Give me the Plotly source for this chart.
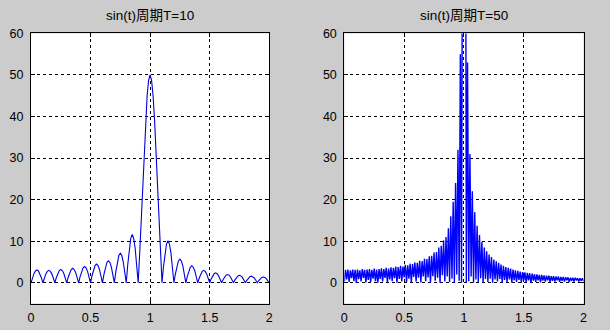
import plotly.graph_objects as go

# ---------------- data ----------------
# Left panel: |X(f)| for sin(t), T=10, sampled every 0.0125 starting at 0
left_start = 0.0
left_step = 0.0125
left_values = [
    0, 1.2, 2.2, 2.85, 3.1, 2.85, 2.2, 1.2,
    0, 1.15, 2.15, 2.75, 3.0, 2.75, 2.15, 1.15,
    0, 1.2, 2.3, 2.95, 3.2, 2.95, 2.3, 1.2,
    0, 1.35, 2.5, 3.2, 3.5, 3.2, 2.5, 1.35,
    0, 1.5, 2.75, 3.6, 3.9, 3.6, 2.75, 1.5,
    0, 1.7, 3.2, 4.15, 4.5, 4.15, 3.2, 1.7,
    0, 2.0, 3.75, 4.9, 5.3, 4.9, 3.75, 2.0,
    0, 2.7, 5.0, 6.55, 7.1, 6.55, 5.0, 2.7,
    0, 4.4, 8.2, 10.7, 11.6, 10.7, 8.2, 4.4,
    0, 7.0, 15.0, 23.5, 31.8, 39.2, 45.0, 48.7,
    50.0, 48.7, 45.0, 39.2, 31.8, 23.5, 15.0, 7.0,
    0, 3.85, 7.2, 9.3, 10.1, 9.3, 7.2, 3.85,
    0, 2.15, 4.05, 5.25, 5.7, 5.25, 4.05, 2.15,
    0, 1.55, 2.9, 3.75, 4.1, 3.75, 2.9, 1.55,
    0, 1.15, 2.15, 2.75, 3.0, 2.75, 2.15, 1.15,
    0, 0.9, 1.7, 2.2, 2.4, 2.2, 1.7, 0.9,
    0, 0.75, 1.4, 1.85, 2.0, 1.85, 1.4, 0.75,
    0, 0.7, 1.3, 1.65, 1.8, 1.65, 1.3, 0.7,
    0, 0.6, 1.15, 1.45, 1.6, 1.45, 1.15, 0.6,
    0, 0.55, 1.0, 1.3, 1.4, 1.3, 1.0, 0.55,
    0,
]

# Right panel: |X(f)| for sin(t), T=50, sampled every 0.01 starting at 0
right_start = 0.0
right_step = 0.01
right_values = [
    0.3, 3.1, 0.8, 3.2, 0.2, 3.0, 1.1, 3.2, 0.4, 3.1,
    0.0, 3.2, 0.9, 3.0, 0.3, 3.3, 1.2, 3.1, 0.1, 3.2,
    0.7, 3.3, 0.2, 3.1, 1.0, 3.4, 0.4, 3.2, 0.0, 3.3,
    0.9, 3.5, 0.3, 3.3, 1.2, 3.6, 0.1, 3.4, 0.8, 3.7,
    0.4, 3.6, 1.1, 3.9, 0.0, 3.8, 0.9, 4.1, 0.3, 3.9,
    1.3, 4.3, 0.2, 4.2, 1.0, 4.6, 0.0, 4.5, 1.4, 4.9,
    0.3, 4.8, 1.2, 5.3, 0.1, 5.2, 1.5, 5.8, 0.4, 5.7,
    1.3, 6.4, 0.0, 6.5, 1.6, 7.3, 0.5, 7.4, 1.2, 8.5,
    0.0, 8.9, 1.8, 10.2, 0.3, 11.0, 1.5, 13.1, 0.2, 16.0,
    1.0, 19.5, 0.0, 24.0, 2.0, 32.0, 0.5, 55.0, 0.0, 160.0,
    250.0, 160.0, 0.0, 53.0, 0.4, 31.0, 1.5, 22.0, 0.0, 17.0,
    0.8, 13.7, 0.2, 11.5, 1.1, 9.8, 0.0, 8.5, 0.9, 7.6,
    0.2, 6.8, 1.0, 6.2, 0.0, 5.6, 0.8, 5.2, 0.3, 4.8,
    0.9, 4.4, 0.0, 4.1, 0.7, 3.8, 0.2, 3.6, 0.8, 3.4,
    0.0, 3.2, 0.6, 3.0, 0.2, 2.9, 0.7, 2.7, 0.0, 2.6,
    0.6, 2.5, 0.1, 2.4, 0.6, 2.3, 0.0, 2.2, 0.5, 2.1,
    0.2, 2.0, 0.6, 1.9, 0.1, 1.9, 0.5, 1.8, 0.3, 1.7,
    0.6, 1.7, 0.2, 1.6, 0.5, 1.6, 0.3, 1.5, 0.6, 1.5,
    0.2, 1.4, 0.5, 1.4, 0.3, 1.3, 0.6, 1.3, 0.2, 1.2,
    0.5, 1.2, 0.3, 1.2, 0.6, 1.1, 0.3, 1.1, 0.5, 1.1,
    0.4,
]

titles = ["sin(t)周期T=10", "sin(t)周期T=50"]
x_ticks = [0, 0.5, 1, 1.5, 2]
x_tick_labels = ["0", "0.5", "1", "1.5", "2"]
y_ticks = [0, 10, 20, 30, 40, 50, 60]
y_tick_labels = ["0", "10", "20", "30", "40", "50", "60"]

# ---------------- figure ----------------
W, H = 610, 330
FONT = "Liberation Sans, Arial, Noto Sans CJK SC, sans-serif"

fig = go.Figure()
fig.add_trace(go.Scatter(y=left_values, x0=left_start, dx=left_step, mode="lines",
                         line=dict(color="#0000d8", width=1.1), xaxis="x", yaxis="y",
                         showlegend=False, hoverinfo="skip"))
fig.add_trace(go.Scatter(y=right_values, x0=right_start, dx=right_step, mode="lines",
                         line=dict(color="#0000ff", width=1.4), xaxis="x2", yaxis="y2",
                         showlegend=False, hoverinfo="skip"))

left_dom = [28.3 / W, 269.3 / W]
right_dom = [345.3 / W, 587.3 / W]
y_dom = [1 - 303 / H, 1 - 27 / H]

def xaxis(dom, anchor):
    return dict(domain=dom, anchor=anchor, range=[0, 2], tickvals=x_ticks, ticktext=x_tick_labels,
                showgrid=True, gridcolor="black", griddash="3px,3px", gridwidth=1,
                showline=True, linecolor="black", linewidth=1, mirror="ticks",
                ticks="inside", ticklen=4, tickcolor="black", zeroline=False,
                ticklabelstandoff=2,
                tickfont=dict(family=FONT, size=12.5, color="black"), fixedrange=True)

def yaxis(anchor):
    return dict(domain=y_dom, anchor=anchor, range=[-5, 60], tickvals=y_ticks, ticktext=y_tick_labels,
                showgrid=True, gridcolor="black", griddash="3px,3px", gridwidth=1,
                showline=True, linecolor="black", linewidth=1, mirror="ticks",
                ticks="inside", ticklen=4, tickcolor="black", zeroline=False,
                ticklabelstandoff=4,
                tickfont=dict(family=FONT, size=12.5, color="black"), fixedrange=True)

fig.update_layout(
    width=W, height=H,
    margin=dict(l=0, r=0, t=0, b=0),
    paper_bgcolor="#cccccc", plot_bgcolor="white",
    xaxis=xaxis(left_dom, "y"), yaxis=yaxis("x"),
    xaxis2=xaxis(right_dom, "y2"), yaxis2=yaxis("x2"),
    annotations=[
        dict(text=titles[0], x=(left_dom[0] + left_dom[1]) / 2, y=y_dom[1], xref="paper", yref="paper",
             xanchor="center", yanchor="bottom", yshift=8, showarrow=False,
             font=dict(family=FONT, size=13.5, color="black")),
        dict(text=titles[1], x=(right_dom[0] + right_dom[1]) / 2, y=y_dom[1], xref="paper", yref="paper",
             xanchor="center", yanchor="bottom", yshift=8, showarrow=False,
             font=dict(family=FONT, size=13.5, color="black")),
    ],
)

fig.write_html("out.html")
